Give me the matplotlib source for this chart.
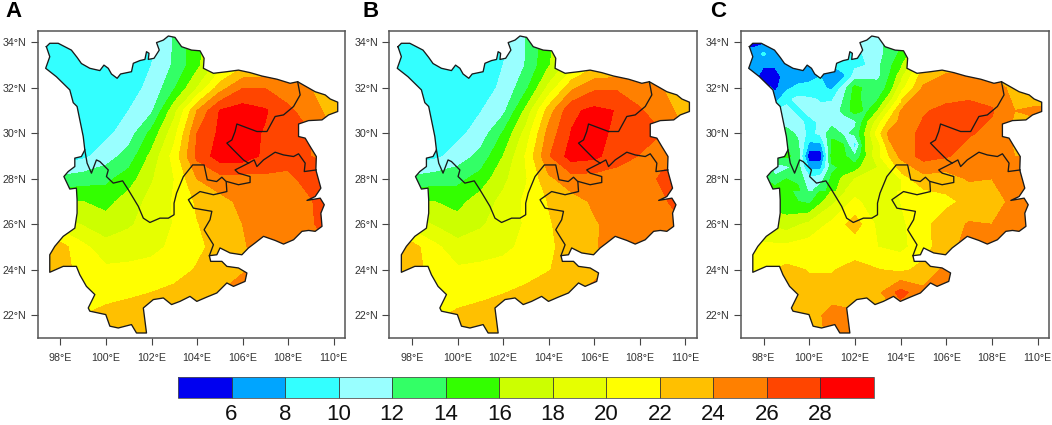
#coding=utf8
# Three panel temperature maps (A, B, C) clipped to the outline of SW China
import numpy as np
import matplotlib
matplotlib.use('Agg')
import matplotlib.pyplot as plt
from matplotlib.colors import ListedColormap, BoundaryNorm
from matplotlib.cm import ScalarMappable
from matplotlib.patches import PathPatch
from matplotlib.path import Path

plt.rcParams['font.family'] = ['Liberation Sans', 'DejaVu Sans']

#--------------------------
# DATA

levels = [6, 8, 10, 12, 14, 16, 18, 20, 22, 24, 26, 28]
band_colors = ['#0000f0', '#00a5ff', '#33ffff', '#99ffff', '#33ff66', '#33ff00', '#ccff00',
	'#e6ff00', '#ffff00', '#ffc000', '#ff8000', '#ff4500', '#ff0000']

lon_ticks = [98, 100, 102, 104, 106, 108, 110]
lat_ticks = [22, 24, 26, 28, 30, 32, 34]

grid_lon = [97, 98, 99, 100, 101, 102, 103, 104, 105, 106, 107, 108, 109, 110, 111]
grid_lat = [35, 34, 33, 32, 31, 30, 29, 28, 27, 26, 25, 24, 23, 22, 21]

temp_a = [
	[9, 9, 9, 9, 9, 9.5, 12, 15.5, 18, 20, 21, 22, 22, 22, 22],
	[9, 9, 9, 9, 9, 9.5, 12.2, 15.5, 18, 20, 21, 22, 22, 22, 22],
	[9, 9, 9, 9, 9.3, 10, 12.3, 15.4, 19, 21.5, 22, 22, 22, 22, 22],
	[9, 9, 9, 9, 9.4, 10.4, 13.8, 18, 23, 25.9, 25.9, 25, 24, 23, 22],
	[9, 9, 9, 9, 10, 11.6, 17.3, 24, 28.1, 28.9, 28.2, 26.4, 25, 23, 22],
	[9, 9, 9, 9.5, 11, 14.6, 19.3, 26, 28.4, 28.8, 27.8, 26.8, 26, 24, 23],
	[9, 9, 9.5, 11, 12.8, 16.6, 20.8, 26.5, 29, 29, 27.6, 26.5, 26, 25, 24],
	[12.5, 12.5, 13, 13.5, 15, 17.8, 20, 24, 25.2, 25.2, 25.5, 25.7, 26.5, 27, 27],
	[16, 16, 16, 15.3, 17, 18.6, 20.2, 22.3, 23.3, 24.5, 25, 25.3, 25.9, 27, 27],
	[19, 19, 17.8, 16.9, 17.7, 19, 20.1, 21.9, 23, 24, 24.6, 25.2, 25.9, 26.5, 27],
	[24, 22.8, 20.5, 18.7, 19.2, 19.6, 20.3, 21.5, 22.8, 23.8, 24.8, 25, 25.5, 26, 26],
	[24, 23, 21, 20.4, 20.4, 20.5, 21, 22.2, 23, 23.9, 24.5, 24.5, 25, 25, 25],
	[23, 22.8, 22, 21.3, 21.6, 22, 22.6, 23.3, 24, 24.5, 25, 25, 25, 25, 25],
	[23, 23, 22, 22.6, 23, 23.2, 23.5, 24, 24.5, 25, 25, 25, 25, 25, 25],
	[23, 23, 23, 23, 23, 23.2, 23.5, 24, 24.5, 25, 25, 25, 25, 25, 25],
]

temp_b = [
	[9, 9, 9, 9, 9, 9.5, 12, 15.5, 18, 20, 21, 22, 22, 22, 22],
	[9, 9, 9, 9, 9, 9.4, 12, 15.5, 18, 20, 21, 22, 22, 22, 22],
	[9, 9, 9, 9, 9.2, 10, 12.1, 15.8, 19, 21.5, 22, 22, 22, 22, 22],
	[9, 9, 9, 9, 9.3, 10.3, 13.5, 18.5, 23.5, 25.6, 25.7, 25, 24, 23, 22],
	[9, 9, 9, 9, 9.9, 11.4, 16.5, 23, 27.6, 28.5, 27.9, 26.2, 25, 23, 22],
	[9, 9, 9, 9.5, 10.8, 14.2, 18.8, 24.8, 28.1, 28.6, 27.6, 26.7, 26, 24, 23],
	[9, 9, 9.5, 10.8, 12.6, 16, 20.2, 25.8, 28.9, 28.5, 26.9, 25.9, 25.5, 25, 24],
	[12.5, 12.5, 13, 13.4, 14.8, 17.5, 19.8, 23.6, 25.1, 25.1, 25, 25.1, 26.3, 27, 27],
	[16, 16, 16, 15.3, 17, 18.5, 20.4, 22.1, 23.2, 24.3, 25, 25.1, 25.7, 27, 27],
	[19, 19, 17.8, 16.8, 17.7, 19, 20.2, 21.8, 23, 23.8, 24.7, 25.2, 25.7, 26, 26],
	[24, 22.8, 20.5, 18.7, 19.2, 19.6, 20.4, 21.6, 22.9, 23.8, 24.8, 25, 25.5, 26, 26],
	[24, 23, 21, 20.3, 20.4, 20.6, 21.1, 21.9, 22.9, 23.6, 24.3, 24.5, 25, 25, 25],
	[23, 22.8, 21.9, 21.3, 21.3, 21.9, 22.5, 23.2, 23.8, 24.4, 25, 25, 25, 25, 25],
	[23, 23, 21.7, 22.3, 23, 23.2, 23.5, 24, 24.5, 25, 25, 25, 25, 25, 25],
	[23, 23, 23, 23, 23, 23.2, 23.5, 24, 24.5, 25, 25, 25, 25, 25, 25],
]

# Panel C, whole region
temp_c = [
	[5, 5, 8, 10, 9, 9.5, 11, 13, 18, 21, 22, 22, 22, 22, 22],
	[5, 5, 8, 10, 9, 9.5, 11, 13, 18, 21, 22, 22, 22, 22, 22],
	[7, 7, 7.5, 8.5, 9, 10.5, 11.5, 15.5, 22, 23.5, 23.5, 23, 22, 22, 22],
	[6, 6, 7.5, 8.6, 7.5, 14, 13, 19, 24.3, 24.8, 25, 24.8, 23.5, 22, 22],
	[10, 10, 10, 10.5, 10.5, 15, 13, 24, 25.8, 26.5, 26.8, 26.2, 24, 24.5, 24],
	[13, 13, 13, 9.5, 10.5, 11, 18, 25, 26.5, 27, 26.2, 25.5, 23.5, 23, 23],
	[13, 13, 14, 8, 14, 12, 20, 24.5, 26.8, 26.2, 25, 24.5, 24, 24, 24],
	[13, 13, 14, 11, 14.5, 17.5, 18, 21, 23.2, 23, 24.2, 24, 24.8, 25, 25],
	[15, 15, 14.5, 13.5, 17.5, 20.5, 18.5, 20, 20.5, 21.5, 22.5, 23.2, 24.5, 25, 25],
	[18, 18, 17, 18.5, 20.5, 23, 19.5, 19.5, 21.5, 23, 24.2, 24, 24.8, 25, 25],
	[20.5, 20.5, 20.5, 21, 21, 20.5, 20, 19.5, 21, 23.5, 24.5, 25, 25.5, 25, 25],
	[21.5, 21.5, 22.5, 21.9, 21.8, 23, 22.1, 21.5, 22.7, 24.5, 24.5, 25, 25, 25, 25],
	[22.5, 22.5, 22.5, 22.5, 23, 22.5, 23.5, 26.8, 24.5, 24.5, 25, 25, 25, 25, 25],
	[22.5, 22.5, 22.5, 23, 24.8, 24.5, 23, 24, 24.5, 25, 25, 25, 25, 25, 25],
	[23, 23, 23, 23, 24.5, 24.8, 23, 24, 24.5, 25, 25, 25, 25, 25, 25],
]

# Panel C, finer readings over the north west corner
nw_lon = [97, 97.5, 98, 98.5, 99, 99.5, 100, 100.5, 101, 101.5, 102, 102.5, 103, 103.5, 104]
nw_lat = [34.5, 34, 33.5, 33, 32.5, 32, 31.5, 31, 30.5, 30, 29.5, 29, 28.5, 28, 27.5]
temp_nw = [
	[6, 5.5, 5.5, 7, 7.5, 9, 9, 9, 9, 9.5, 10.5, 11, 11, 13, 13.5],
	[6, 5.5, 5.5, 7, 7.5, 9, 9, 9, 9, 9.5, 10.5, 11, 11, 13, 13.5],
	[7, 6.5, 8.4, 6, 7, 7.5, 8, 8.5, 9, 9, 9, 10.5, 11.5, 12.5, 14.5],
	[7, 7.5, 6.2, 6.3, 7, 7, 7, 7.5, 8, 9, 9.5, 10, 11.5, 13.5, 15.5],
	[7, 7, 5, 5, 7, 7, 7.5, 8, 7.5, 7.5, 11, 11.5, 11.5, 14, 17],
	[7, 7, 7, 5.5, 7.5, 8.5, 8.5, 8.5, 7.5, 11, 14.6, 13.5, 13, 14.5, 19],
	[7, 7, 7, 7, 9.5, 10.5, 10.3, 9.8, 9.8, 12, 15, 13, 13.8, 17, 21],
	[10, 10, 10, 10, 10.5, 9.5, 10.5, 10.5, 10.8, 12.5, 15, 13.5, 16, 20, 24],
	[11, 11, 11, 11, 11, 10.5, 9.5, 10.3, 11, 11, 11.5, 15.5, 19, 22.5, 24.5],
	[13, 13, 13, 13, 13, 11.5, 9.3, 10.5, 13.5, 11.5, 12.5, 16.5, 21, 24.6, 25],
	[14, 14, 14, 14, 14, 12.5, 7.5, 7.5, 14.5, 14, 9, 16.5, 19, 23.5, 25.5],
	[14, 14, 14, 14, 14.5, 13, 4.5, 4.5, 15, 14.5, 12, 16, 19.5, 22, 24.5],
	[13.5, 13.5, 13.5, 11, 11.5, 13, 7.5, 7.5, 13.5, 14.5, 15, 17, 18, 20, 23],
	[14, 14, 14, 12.5, 14, 13.5, 10.5, 11, 14.5, 16.5, 18, 19, 18.5, 18, 20],
	[16, 16, 16, 15, 15.5, 14.5, 11.5, 13, 15, 17.5, 20, 19.5, 19, 18.5, 19.5],
]

# Outer boundary of the region
outer_lon = [97.38, 97.53, 97.90, 98.19, 98.48, 98.73, 98.92, 99.29, 99.73, 99.91, 100.10, 100.24, 100.49, 100.64,
	101.12, 101.20, 101.49, 101.71, 101.78, 101.89, 101.86, 102.11, 102.34, 102.22, 102.52, 102.74, 103.03, 103.32,
	103.76, 104.13, 104.31, 104.28, 104.72, 105.31, 105.82, 106.33, 106.85, 107.51, 108.09, 108.42, 108.75, 109.19,
	109.63, 109.85, 110.18, 110.18, 109.78, 109.49, 108.90, 108.46, 108.46, 108.75, 108.97, 109.24, 109.22, 109.34,
	109.44, 109.19, 108.83, 109.41, 109.59, 109.44, 109.49, 109.19, 108.90, 108.61, 108.24, 107.80, 107.43, 106.92,
	106.55, 106.26, 105.97, 105.45, 105.01, 104.87, 104.54, 104.60, 105.09, 105.31, 105.82, 106.19, 106.11, 105.60,
	105.31, 104.87, 104.43, 103.99, 103.69, 103.25, 102.88, 102.52, 102.08, 101.64, 101.78, 101.34, 101.12, 100.54,
	100.17, 99.99, 99.29, 99.22, 99.51, 99.14, 98.85, 98.70, 98.12, 97.53, 97.53, 97.75, 98.12, 98.63, 98.73, 98.73,
	98.70, 98.41, 98.15, 98.34, 98.63, 98.63, 98.92, 99.07, 99.00, 98.85, 98.73, 98.56, 98.41, 97.82, 97.35, 97.53, 97.38]
outer_lat = [33.81, 33.96, 33.96, 33.81, 33.66, 33.34, 33.07, 32.86, 32.76, 33.00, 32.86, 32.61, 32.42, 32.61,
	32.71, 33.08, 33.20, 33.25, 33.59, 33.52, 33.25, 33.30, 33.66, 33.99, 34.10, 34.28, 34.22, 33.81,
	33.66, 33.63, 33.30, 32.86, 32.64, 32.71, 32.78, 32.67, 32.52, 32.38, 32.20, 32.27, 32.08, 31.83,
	31.69, 31.51, 31.37, 30.96, 30.81, 30.59, 30.56, 30.41, 29.86, 29.79, 29.42, 28.98, 28.39, 27.96,
	27.59, 27.22, 27.05, 27.15, 26.86, 26.49, 25.91, 25.69, 25.73, 25.69, 25.32, 25.13, 25.29, 25.47,
	25.18, 24.96, 24.66, 24.74, 24.96, 24.66, 24.62, 24.37, 24.37, 24.15, 24.08, 23.86, 23.49, 23.27,
	23.42, 22.98, 22.80, 22.61, 22.83, 22.61, 22.47, 22.76, 22.69, 22.32, 21.22, 21.22, 21.59, 21.44,
	21.52, 22.03, 22.18, 22.32, 22.91, 23.27, 23.78, 24.15, 24.15, 23.89, 24.66, 25.03, 25.47, 25.83, 26.49, 27.08,
	27.59, 27.55, 28.10, 28.32, 28.54, 28.91, 28.98, 29.27, 29.86, 30.59, 31.18, 31.35, 31.91, 32.49, 32.86, 33.37, 33.81]

# Inner province borders
south_lon = [99.07, 99.17, 99.36, 99.58, 99.73, 100.10, 100.02, 100.32, 100.73, 100.98, 101.42, 101.64, 101.93, 102.37,
	102.74, 102.99, 102.99, 103.10, 103.40, 103.81, 104.31, 104.45, 104.86, 105.09, 105.28, 105.31, 104.72, 104.13,
	103.62, 103.84, 104.65, 104.57, 104.31, 104.72, 104.54]
south_lat = [29.27, 28.69, 28.25, 28.83, 28.76, 28.39, 28.10, 27.81, 27.91, 27.52, 26.79, 26.27, 26.08, 26.27,
	26.27, 26.42, 26.93, 27.37, 28.10, 28.61, 28.61, 27.96, 27.88, 28.07, 27.88, 27.44, 27.30, 27.44,
	27.08, 26.71, 26.57, 26.20, 25.76, 25.10, 24.62]
east_lon = [108.42, 108.53, 108.24, 107.80, 107.43, 107.07, 106.63, 105.75, 105.67, 105.53, 105.31, 105.60, 106.04,
	106.26, 106.51, 106.63, 106.92, 107.43, 107.80, 108.24, 108.46, 108.75, 108.71, 109.24]
east_lat = [32.27, 31.69, 31.18, 30.81, 30.74, 30.08, 30.08, 30.41, 30.08, 29.71, 29.57, 29.27, 28.83,
	28.69, 28.83, 28.54, 28.83, 29.17, 29.05, 28.98, 29.10, 28.69, 28.32, 28.39]
loop_lon = [106.26, 105.67, 105.82, 106.33, 106.33, 105.82, 105.31]
loop_lat = [28.69, 28.39, 28.25, 28.10, 27.84, 27.74, 27.88]

#--------------------------
# 1) Figure and shared colour scale

W = 1052.0
H = 425.0
fig = plt.figure(figsize=(W / 100, H / 100), dpi=100)
cmap = ListedColormap(band_colors[1:-1])
cmap.set_under(band_colors[0])
cmap.set_over(band_colors[-1])
norm = BoundaryNorm(levels, cmap.N)
line_col = '#1a1a1a'
text_col = '#333333'

def draw_field(ax, clip, lons, lats, values):
	cs = ax.contourf(lons, lats, np.array(values), levels=levels, cmap=cmap, norm=norm, extend='both')
	cs.set_clip_path(clip)

def make_panel(left, right, letter, letter_x, values):
	ax = fig.add_axes([left / W, 1 - 338 / H, (right - left) / W, 307 / H])
	clip = PathPatch(Path(np.column_stack([outer_lon, outer_lat])), transform=ax.transData, fc='none', ec='none')
	ax.add_patch(clip)
	draw_field(ax, clip, grid_lon, grid_lat, values)
	# Borders
	ax.plot(outer_lon, outer_lat, color=line_col, lw=0.95, zorder=5)
	ax.plot(south_lon, south_lat, color=line_col, lw=0.95, zorder=5)
	ax.plot(east_lon, east_lat, color=line_col, lw=0.95, zorder=5)
	ax.plot(loop_lon, loop_lat, color=line_col, lw=0.95, zorder=5)
	# Axes
	ax.set_xlim(97, 110.5)
	ax.set_ylim(21, 34.5)
	ax.set_xticks(lon_ticks)
	ax.set_yticks(lat_ticks)
	ax.set_xticklabels([str(v) + '°E' for v in lon_ticks])
	ax.set_yticklabels([str(v) + '°N' for v in lat_ticks])
	ax.tick_params(length=5, width=0.8, color='#444444', labelsize=7.7, labelcolor=text_col)
	ax.tick_params(axis='x', pad=6)
	ax.tick_params(axis='y', pad=3)
	for s in ax.spines.values():
		s.set_color('#555555')
		s.set_linewidth(1.1)
	fig.text(letter_x / W, 1 - 17 / H, letter, fontsize=16, fontweight='bold', color='black')
	return ax, clip

make_panel(37.7, 345, 'A', 5, temp_a)
make_panel(389.3, 696.7, 'B', 362, temp_b)
ax_c, clip_c = make_panel(740.7, 1049, 'C', 710, temp_c)
draw_field(ax_c, clip_c, nw_lon, nw_lat, temp_nw)

#--------------------------
# 2) Colour bar

cax = fig.add_axes([178 / W, 1 - 398 / H, 696 / W, 21 / H])
sm = ScalarMappable(norm=norm, cmap=cmap)
cb = fig.colorbar(sm, cax=cax, orientation='horizontal', extend='both', extendfrac='auto',
	extendrect=True, spacing='uniform', ticks=levels, drawedges=True)
cb.dividers.set_color('#333333')
cb.dividers.set_linewidth(0.6)
cb.outline.set_edgecolor('#555555')
cb.outline.set_linewidth(0.6)
cax.tick_params(length=0, labelsize=16, pad=4, labelcolor='#111111')

fig.savefig('out.png', dpi=100)
